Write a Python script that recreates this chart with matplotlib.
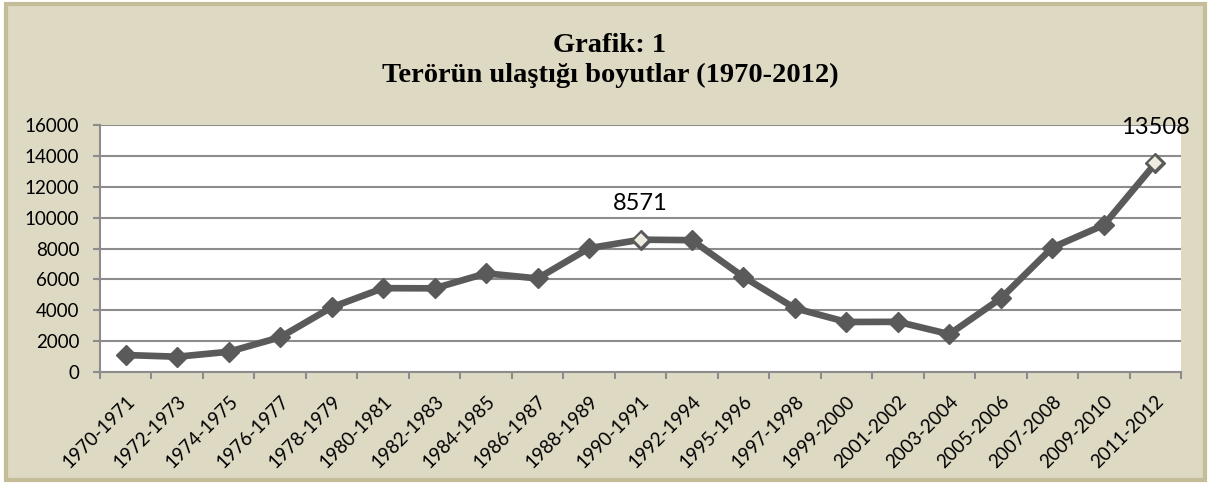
from matplotlib import pyplot as plt
from matplotlib.patches import Rectangle
import numpy as np

periods = ['1970-1971', '1972-1973', '1974-1975', '1976-1977', '1978-1979',
           '1980-1981', '1982-1983', '1984-1985', '1986-1987', '1988-1989',
           '1990-1991', '1992-1994', '1995-1996', '1997-1998', '1999-2000',
           '2001-2002', '2003-2004', '2005-2006', '2007-2008', '2009-2010',
           '2011-2012']
attacks = [1100, 990, 1310, 2250, 4190, 5430, 5420, 6390, 6060, 8020,
           8571, 8540, 6160, 4130, 3240, 3250, 2450, 4770, 8060, 9520,
           13508]
highlight = ['1990-1991', '2011-2012']
yticks = [0, 2000, 4000, 6000, 8000, 10000, 12000, 14000, 16000]

line_col = '#5a5a5a'
grid_col = '#8c8c8c'
bg_col = '#ddd9c3'

fig = plt.figure(figsize=(12.1, 4.84), dpi=100)
fig.patch.set_facecolor('white')
# chart area frame, kept under the axes
fig.patches.append(Rectangle((6 / 1210, 4 / 484), 1199 / 1210, 476 / 484,
                             transform=fig.transFigure, facecolor=bg_col,
                             edgecolor='#c4bd97', linewidth=3, zorder=-5))

ax = fig.add_axes([100 / 1210, 112 / 484, 1081 / 1210, 247 / 484])
ax.set_facecolor('white')

x = np.arange(len(periods))
ax.plot(x, attacks, color=line_col, linewidth=4.8, marker='D',
        markersize=10, markerfacecolor=line_col, markeredgecolor=line_col,
        zorder=3)
for p in highlight:
    i = periods.index(p)
    ax.plot(x[i], attacks[i], marker='D', markersize=8.5,
            markerfacecolor='#eeece1', markeredgecolor=line_col,
            markeredgewidth=1.2, zorder=4)
    ax.annotate(str(attacks[i]), (x[i], attacks[i]), xytext=(0, 26),
                textcoords='offset points', ha='center', va='center',
                fontsize=17, family='Lato', color='black', zorder=5,
                annotation_clip=False)

ax.set_xlim(-0.5, len(periods) - 0.5)
ax.set_ylim(0, 16000)
ax.set_yticks(yticks)
ax.set_yticklabels([str(v) for v in yticks], family='Lato', fontsize=13.5)
ax.yaxis.grid(True, color=grid_col, linewidth=1.5)
ax.set_axisbelow(True)

# category ticks sit on the boundaries, labels on the centres
ax.set_xticks(np.arange(len(periods) + 1) - 0.5)
ax.set_xticklabels([])
ax.set_xticks(x, minor=True)
ax.set_xticklabels(periods, minor=True, rotation=45, ha='right',
                   rotation_mode='anchor', family='Lato', fontsize=13.5)
ax.tick_params(axis='x', which='minor', length=0, pad=15)
ax.tick_params(axis='x', which='major', length=5, color=grid_col, width=1.5)
ax.tick_params(axis='y', length=5, color=grid_col, width=1.5, pad=10)

for s in ['top', 'right']:
    ax.spines[s].set_visible(False)
for s in ['left', 'bottom']:
    ax.spines[s].set_color(grid_col)
    ax.spines[s].set_linewidth(1.5)

fig.text(610 / 1210, 1 - 45 / 484, 'Grafik: 1', ha='center', va='center',
         family='Liberation Serif', weight='bold', fontsize=20.5)
fig.text(610 / 1210, 1 - 75 / 484, 'Terörün ulaştığı boyutlar (1970-2012)',
         ha='center', va='center', family='Liberation Serif', weight='bold',
         fontsize=20.5)

plt.savefig('out.png', dpi=100, facecolor=fig.get_facecolor())
